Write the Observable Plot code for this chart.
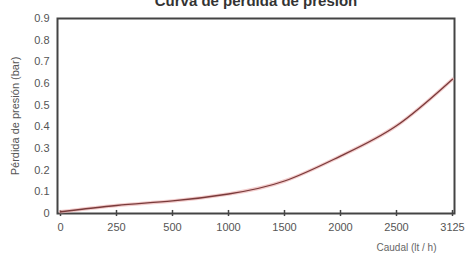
<!DOCTYPE html>
<html>
<head>
<meta charset="utf-8">
<script src="https://cdn.jsdelivr.net/npm/d3@7"></script>
<script src="https://cdn.jsdelivr.net/npm/@observablehq/plot@0.6"></script>
<style>
  body { margin: 0; background: #fff; }
  #chart svg { font-family: "Liberation Sans Narrow", "Liberation Sans", Arial, sans-serif; }
</style>
</head>
<body>
<div id="chart"></div>
<script>
const title = "Curva de pérdida de presión";
const caudal = ["0", "250", "500", "1000", "1500", "2000", "2500", "3125"];
const perdida = [0.008, 0.037, 0.058, 0.09, 0.15, 0.265, 0.405, 0.62];
const yTicks = [0, 0.1, 0.2, 0.3, 0.4, 0.5, 0.6, 0.7, 0.8, 0.9];

const data = caudal.map((c, i) => ({c, v: perdida[i]}));

const chart = Plot.plot({
  width: 468,
  height: 259,
  marginLeft: 57,
  marginRight: 14,
  marginTop: 18,
  marginBottom: 46,
  style: {fontSize: "11px", color: "#555", background: "#fff"},
  x: {type: "point", domain: caudal, padding: 0, label: null},
  y: {domain: [0, 0.9], label: null},
  marks: [
    Plot.frame({stroke: "#444", strokeWidth: 2}),
    Plot.ruleX(caudal, {x: d => d, y1: -0.014, y2: 0.014, stroke: "#444", strokeWidth: 1.5}),
    Plot.ruleY(yTicks, {y: d => d, x1: caudal[0], x2: caudal[0], insetLeft: -4, insetRight: -4, stroke: "#444", strokeWidth: 1.5}),
    Plot.axisX({ticks: caudal, tickSize: 0, tickPadding: 10, fontSize: 11, fill: "#555", label: null}),
    Plot.axisY({ticks: yTicks, tickSize: 0, tickPadding: 8, tickFormat: d => d === 0 ? "0" : d.toFixed(1), fontSize: 11, fill: "#555",
      label: "Pérdida de presión (bar)", labelAnchor: "center", labelArrow: "none", labelOffset: 46}),
    Plot.line(data, {x: "c", y: "v", curve: "natural", stroke: "#e9a9a9", strokeWidth: 3.5, strokeOpacity: 0.6}),
    Plot.line(data, {x: "c", y: "v", curve: "natural", stroke: "#7a3a3a", strokeWidth: 1.3}),
    Plot.text([title], {frameAnchor: "top", dy: -23, text: d => d, fontSize: 15, fontWeight: "bold", fill: "#333"}),
    Plot.text(["Caudal (lt / h)"], {frameAnchor: "bottom-right", dx: -18, dy: 37, textAnchor: "end", text: d => d, fontSize: 10, fill: "#666"})
  ]
});
document.getElementById("chart").appendChild(chart);
</script>
</body>
</html>
